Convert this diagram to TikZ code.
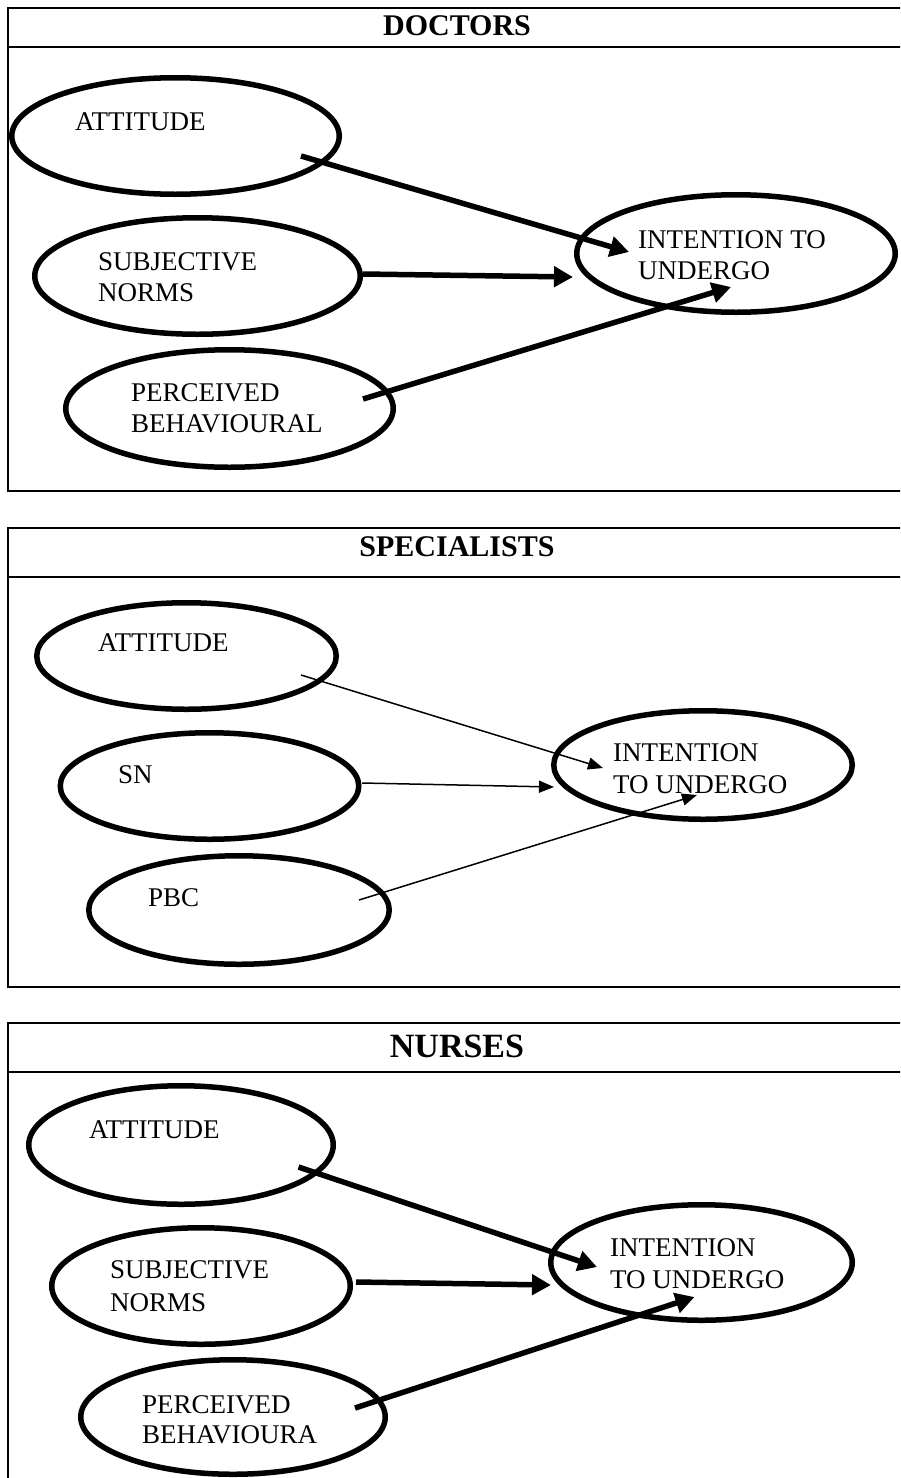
\documentclass[tikz,border=0pt]{standalone}
\usepackage{fontspec}
\setmainfont{Liberation Serif}
\usetikzlibrary{shapes.geometric,arrows.meta}
\begin{document}
\begin{tikzpicture}[x=1pt,y=-1pt,
 frame/.style={line width=2pt},
 oval/.style={ellipse, draw, line width=5.5pt, inner sep=0, outer sep=0},
 lbl/.style={anchor=north west, inner sep=0, align=left, font=\fontsize{27}{31}\selectfont},
 head/.style={font=\bfseries\fontsize{30}{36}\selectfont, inner sep=0},
 bigarrow/.style={line width=5.5pt, -{Triangle[length=19pt,width=20pt]}},
 smallarrow/.style={line width=1.5pt, -{Triangle[length=15pt,width=12pt]}}]
\useasboundingbox (0,0) rectangle (900,1478);
\clip (0,0) rectangle (900,1478);

% ---------- Panel 1: DOCTORS ----------
\draw[frame] (8,8) rectangle (908,491);
\draw[frame] (8,47) -- (908,47);
\node[head] (h1) at (457,26) {DOCTORS};

\node[oval, minimum width=327.5pt, minimum height=116.5pt] (att1) at (175.5,136) {};
\node[oval, minimum width=325.5pt, minimum height=116.5pt] (sn1) at (197.5,276) {};
\node[oval, minimum width=327.5pt, minimum height=117.5pt] (pbc1) at (229.5,408.5) {};
\node[oval, minimum width=318.5pt, minimum height=117.5pt] (int1) at (736,253.5) {};

\node[lbl] (tatt1) at (75,112) {ATTITUDE};
\node[lbl] (tsn1) at (98,252) {SUBJECTIVE\\NORMS};
\node[lbl] (tpbc1) at (131,383) {PERCEIVED\\BEHAVIOURAL};
\node[lbl] (tint1) at (638,230) {INTENTION TO\\UNDERGO};

\coordinate (a1s) at (301,156);
\coordinate (a1e) at (629,252);
\coordinate (s1s) at (363,274);
\coordinate (s1e) at (573,277);
\coordinate (p1s) at (363,399);
\coordinate (p1e) at (731,287);
\draw[bigarrow] (a1s) -- (a1e);
\draw[bigarrow] (s1s) -- (s1e);
\draw[bigarrow] (p1s) -- (p1e);

% ---------- Panel 2: SPECIALISTS ----------
\draw[frame] (8,528) rectangle (908,987);
\draw[frame] (8,577) -- (908,577);
\node[head] (h2) at (457,547) {SPECIALISTS};

\node[oval, minimum width=299.5pt, minimum height=106.5pt] (att2) at (186.5,656) {};
\node[oval, minimum width=298.5pt, minimum height=106.5pt] (sn2) at (209.5,786) {};
\node[oval, minimum width=300.5pt, minimum height=108.5pt] (pbc2) at (239,910) {};
\node[oval, minimum width=298.5pt, minimum height=108.5pt] (int2) at (703,765) {};

\node[lbl] (tatt2) at (98,633) {ATTITUDE};
\node[lbl] (tsn2) at (118,765) {SN};
\node[lbl] (tpbc2) at (148,888) {PBC};
\node[lbl, font=\fontsize{27}{32}\selectfont] (tint2) at (613,743) {INTENTION\\TO UNDERGO};

\coordinate (a2s) at (301,675);
\coordinate (a2e) at (603,768);
\coordinate (s2s) at (362,783);
\coordinate (s2e) at (554,787);
\coordinate (p2s) at (359,900);
\coordinate (p2e) at (697,795);
\draw[smallarrow] (a2s) -- (a2e);
\draw[smallarrow] (s2s) -- (s2e);
\draw[smallarrow] (p2s) -- (p2e);

% ---------- Panel 3: NURSES ----------
\draw[frame] (8,1023) rectangle (908,1490);
\draw[frame] (8,1072) -- (908,1072);
\node[head, font=\bfseries\fontsize{34}{40}\selectfont] (h3) at (457,1046) {NURSES};

\node[oval, minimum width=304.5pt, minimum height=118.5pt] (att3) at (181,1145) {};
\node[oval, minimum width=298.5pt, minimum height=116.5pt] (sn3) at (201,1286) {};
\node[oval, minimum width=304.5pt, minimum height=114.5pt] (pbc3) at (233,1417) {};
\node[oval, minimum width=301.5pt, minimum height=115.5pt] (int3) at (701.5,1262.5) {};

\node[lbl] (tatt3) at (89,1120) {ATTITUDE};
\node[lbl, font=\fontsize{27}{33}\selectfont] (tsn3) at (110,1260) {SUBJECTIVE\\NORMS};
\node[lbl, font=\fontsize{27}{30}\selectfont] (tpbc3) at (142,1395) {PERCEIVED\\BEHAVIOURA};
\node[lbl, font=\fontsize{27}{32}\selectfont] (tint3) at (610,1238) {INTENTION\\TO UNDERGO};

\coordinate (a3s) at (298.5,1167);
\coordinate (a3e) at (597,1267);
\coordinate (s3s) at (356,1282);
\coordinate (s3e) at (551,1285);
\coordinate (p3s) at (355,1408);
\coordinate (p3e) at (694.5,1297);
\draw[bigarrow] (a3s) -- (a3e);
\draw[bigarrow] (s3s) -- (s3e);
\draw[bigarrow] (p3s) -- (p3e);
\end{tikzpicture}
\end{document}
